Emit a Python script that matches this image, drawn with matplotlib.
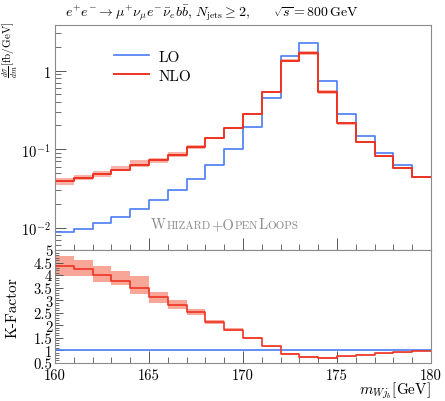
import numpy as np
import matplotlib
matplotlib.use("Agg")
import matplotlib.pyplot as plt
from matplotlib.ticker import FixedLocator, MultipleLocator, NullFormatter, FixedFormatter
from matplotlib.offsetbox import TextArea, HPacker, AnchoredOffsetbox

plt.rcParams['mathtext.fontset'] = 'cm'
plt.rcParams['font.family'] = 'serif'
plt.rcParams['font.serif'] = ['cmr10', 'DejaVu Serif']
plt.rcParams['axes.unicode_minus'] = False

# bin edges in m_Wjb [GeV]
edges = np.arange(160, 181, 1)

# dsigma/dm [fb/GeV]
lo = [0.00885, 0.00975, 0.0116, 0.0137, 0.0171, 0.0228, 0.0299, 0.0412, 0.0633, 0.101,
      0.194, 0.446, 1.51, 2.23, 0.746, 0.282, 0.147, 0.089, 0.0633, 0.0446]
nlo = [0.0389, 0.0430, 0.0478, 0.0548, 0.0633, 0.0718, 0.0849, 0.106, 0.138, 0.187,
       0.282, 0.531, 1.34, 1.68, 0.531, 0.214, 0.123, 0.0807, 0.0575, 0.0446]

# K-factor and its scale band
kfac = [4.35, 4.24, 4.00, 3.78, 3.47, 3.11, 2.82, 2.52, 2.12, 1.83,
        1.48, 1.16, 0.86, 0.72, 0.70, 0.76, 0.82, 0.88, 0.92, 0.99]
k_lo = [3.95, 3.95, 3.74, 3.62, 3.25, 2.88, 2.65, 2.41, 2.05, 1.76,
        1.44, 1.13, 0.83, 0.68, 0.66, 0.73, 0.80, 0.86, 0.90, 0.98]
k_hi = [4.77, 4.61, 4.38, 4.15, 3.95, 3.34, 3.02, 2.65, 2.22, 1.88,
        1.52, 1.19, 0.89, 0.76, 0.74, 0.79, 0.84, 0.90, 0.94, 1.00]

blue = '#4a7cf5'
red = '#ee3322'
band = '#f4806c'
frame = '#8a8a8a'


def stepvals(v):
    v = np.asarray(v, float)
    return np.append(v, v[-1])


nlo_lo = np.array(nlo) * np.array(k_lo) / np.array(kfac)
nlo_hi = np.array(nlo) * np.array(k_hi) / np.array(kfac)

fig = plt.figure(figsize=(4.45, 4.02), dpi=100)
ax = fig.add_axes([0.1236, 0.3756, 0.845, 0.5597])
rx = fig.add_axes([0.1236, 0.0945, 0.845, 0.2811], sharex=ax)

# main panel
ax.fill_between(edges, stepvals(nlo_lo), stepvals(nlo_hi), step='post', color=band, alpha=0.6, lw=0)
ax.step(edges, stepvals(lo), where='post', color=blue, lw=1.2, label='LO')
ax.step(edges, stepvals(nlo), where='post', color=red, lw=1.4, label='NLO')
ax.set_yscale('log')
ax.set_xlim(160, 180)
ax.set_ylim(0.0052, 3.8)
ax.yaxis.set_major_locator(FixedLocator([0.01, 0.1, 1]))
ax.yaxis.set_major_formatter(FixedFormatter([r'$10^{-2}$', r'$10^{-1}$', r'$1$']))
ax.yaxis.set_minor_formatter(NullFormatter())
ax.tick_params(labelbottom=False)

leg = ax.legend(loc='upper left', bbox_to_anchor=(0.12, 0.95), frameon=False, fontsize=11,
                handlelength=2.3, handletextpad=0.6, labelspacing=0.35)

# WHIZARD+OPENLOOPS in small caps
parts = [('W', 10.5), ('HIZARD', 8), ('+O', 10.5), ('PEN', 8), ('L', 10.5), ('OOPS', 8)]
areas = [TextArea(s, textprops=dict(color='#8c8c8c', fontsize=fs, family='serif')) for s, fs in parts]
box = HPacker(children=areas, align='baseline', pad=0, sep=0.3)
anch = AnchoredOffsetbox(loc='lower left', child=box, frameon=False, pad=0,
                         bbox_to_anchor=(0.255, 0.085), bbox_transform=ax.transAxes, borderpad=0)
ax.add_artist(anch)

# ratio panel
rx.fill_between(edges, stepvals(k_lo), stepvals(k_hi), step='post', color=band, alpha=0.7, lw=0)
rx.axhline(1, color=blue, lw=1.2)
rx.step(edges, stepvals(kfac), where='post', color=red, lw=1.2)
rx.set_ylim(0.5, 5)
rx.set_yticks([0.5, 1, 1.5, 2, 2.5, 3, 3.5, 4, 4.5, 5])
rx.set_yticklabels(['0.5', '1', '1.5', '2', '2.5', '3', '3.5', '4', '4.5', '5'])
rx.yaxis.set_minor_locator(MultipleLocator(0.1))
rx.xaxis.set_major_locator(MultipleLocator(5))
rx.xaxis.set_minor_locator(MultipleLocator(1))

for a in (ax, rx):
    for s in a.spines.values():
        s.set_color(frame)
        s.set_linewidth(0.8)
    a.tick_params(which='both', direction='in', color='#555555', top=False, right=False,
                  labelsize=10.5, pad=3)
    a.tick_params(which='major', length=9, width=0.7)
    a.tick_params(which='minor', length=4, width=0.6)

rx.tick_params(axis='y', which='major', length=6, pad=2)
rx.tick_params(axis='y', which='minor', length=3)
rx.tick_params(axis='x', pad=4)
ax.tick_params(axis='y', which='major', length=8)

rx.set_ylabel('K-Factor', fontsize=11)
rx.yaxis.set_label_coords(-0.095, 0.5)

fig.text(0.9685, 0.018, r'$m_{Wj_b}$[GeV]', ha='right', va='baseline', fontsize=11)
fig.text(0.024, 0.947, r'$\frac{d\sigma}{dm}$[fb/GeV]', rotation=90, ha='center', va='top', fontsize=8)
fig.text(0.146, 0.968, r'$e^{+}e^{-}\to\mu^{+}\nu_\mu e^{-}\bar{\nu}_e b\bar{b}$, $N_{\rm jets}\geq 2$,'
         r'$\quad\quad\sqrt{s}=800\,\mathrm{GeV}$', ha='left', va='center', fontsize=10)

fig.savefig('out.png', dpi=100)
